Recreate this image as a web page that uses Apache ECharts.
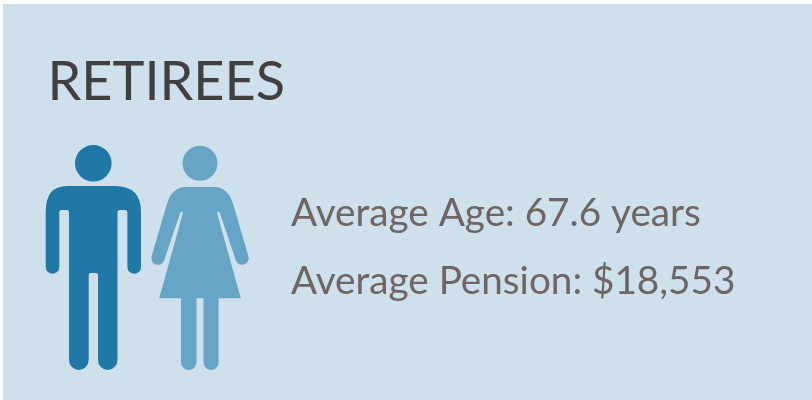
<!DOCTYPE html>
<html>
<head>
<meta charset="utf-8">
<title>Retirees</title>
<script src="https://cdn.jsdelivr.net/npm/echarts@6/dist/echarts.min.js"></script>
<style>
html, body { margin: 0; padding: 0; background: #fff; }
#main { width: 812px; height: 400px; }
</style>
</head>
<body>
<div id="main"></div>
<script>
var heading = 'RETIREES';
var statLabels = ['Average Age', 'Average Pension'];
var statValues = ['67.6 years', '$18,553'];

var manColor = '#1f78a6';
var womanColor = '#66a5c5';

// figures, graphic component has no path type so they go through a custom series
var figures = [
    {
        color: manColor,
        rect: { x: 45.7, y: 186, width: 95.3, height: 184 },
        path: 'M67 186 L115 186 Q141 186 141 212 L141 267 A6.7 6.7 0 0 1 127.4 267 L127.4 213 Q127.4 210 125 210 L119.5 210 Q117.5 210 117.5 212 L117.5 360 A9.75 10 0 0 1 98 360 L98 275 Q98 273 96 273 L90.5 273 Q88.7 273 88.7 275 L88.7 360 A9.85 10 0 0 1 69 360 L69 212 Q69 210 67 210 L61.5 210 Q59.3 210 59.3 213 L59.3 267 A6.8 6.8 0 0 1 45.7 267 L45.7 212 Q45.7 186 67 186 Z'
    },
    {
        color: womanColor,
        rect: { x: 151.3, y: 187, width: 97.4, height: 183 },
        path: 'M186 187 L214 187 Q228 187 233 204 L248.2 256 A6.6 6.6 0 0 1 236 261 L219.8 213 Q218 210 217 213 L240.7 298.3 L218.5 298.3 L218.5 362.5 A7.5 7.5 0 0 1 203.5 362.5 L203.5 298.3 L196.5 298.3 L196.5 362.5 A7.75 7.5 0 0 1 181 362.5 L181 298.3 L159.3 298.3 L183 213 Q182 210 180.2 213 L164 261 A6.6 6.6 0 0 1 151.8 256 L167 204 Q172 187 186 187 Z'
    }
];

var elements = [
    { type: 'rect', z: -10, shape: { x: 3, y: 4, width: 809, height: 396 }, style: { fill: '#cde0ec' } },
    {
        type: 'text', x: 47.5, y: 55.5,
        style: { text: heading, fill: '#404040', font: '54px Lato' }
    },
    { type: 'circle', shape: { cx: 93.3, cy: 163.3, r: 18.3 }, style: { fill: manColor } },
    { type: 'circle', shape: { cx: 200, cy: 163.3, r: 17.5 }, style: { fill: womanColor } }
];

var statTops = [194, 262];
statLabels.forEach(function (label, i) {
    elements.push({
        type: 'text', x: 291, y: statTops[i],
        style: { text: label + ': ' + statValues[i], fill: '#6f6563', font: '38.7px Lato' }
    });
});

var myChart = echarts.init(document.getElementById('main'));
myChart.setOption({
    animation: false,
    graphic: { elements: elements },
    series: [{
        type: 'custom',
        coordinateSystem: 'none',
        silent: true,
        z: 10,
        data: [0, 1],
        renderItem: function (params) {
            var fig = figures[params.dataIndex];
            return {
                type: 'path',
                shape: {
                    pathData: fig.path,
                    layout: 'cover',
                    x: fig.rect.x,
                    y: fig.rect.y,
                    width: fig.rect.width,
                    height: fig.rect.height
                },
                style: { fill: fig.color }
            };
        }
    }]
});
</script>
</body>
</html>
